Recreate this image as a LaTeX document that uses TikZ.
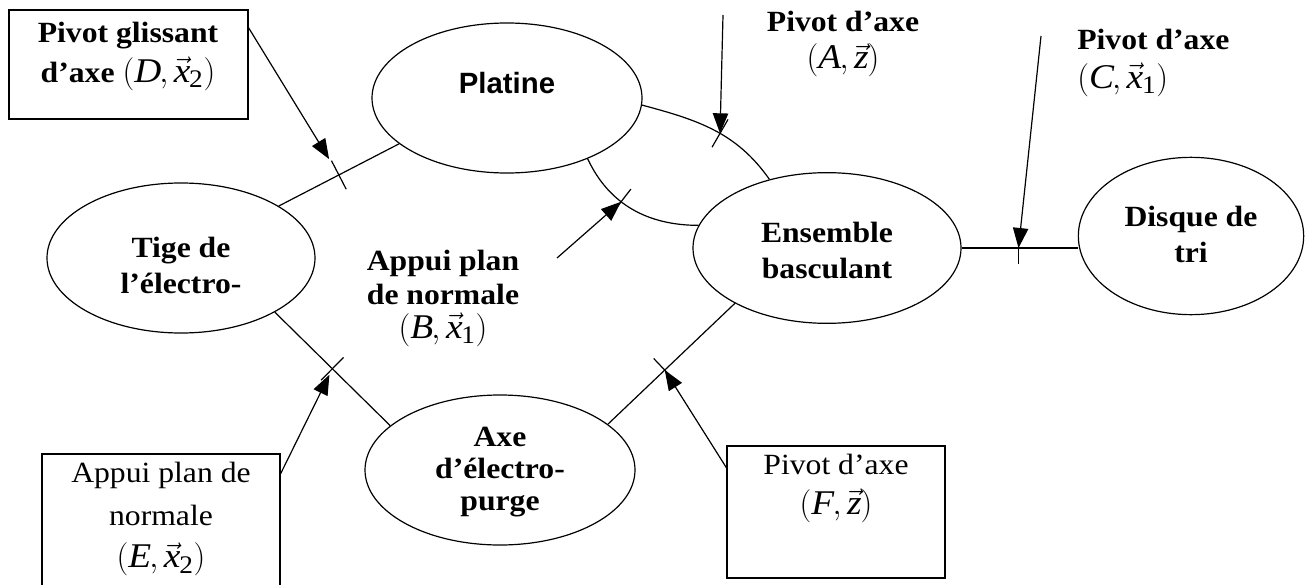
\documentclass[tikz,border=0pt]{standalone}
\usepackage{fontspec}
\setmainfont{Liberation Serif}[FakeStretch=1.08]
\setsansfont{Liberation Sans}
\usetikzlibrary{shapes.geometric,arrows.meta,decorations.markings,calc}
\newcommand{\vecit}[1]{\vec{\mathit{#1}}}
\newcommand{\subnum}[1]{_{\mbox{\fontseries{m}\fontsize{19pt}{19pt}\selectfont #1}}}
\newcommand{\couple}[2]{{\fontsize{26pt}{26pt}\selectfont$(\mathit{#1},#2)$}}
\tikzset{
  ell/.style={draw, ellipse, inner sep=0pt, line width=0.9pt},
  lbl/.style={align=center, inner sep=0pt, font=\fontsize{22pt}{27pt}\selectfont\bfseries},
  reglbl/.style={align=center, inner sep=0pt, font=\fontsize{22pt}{30pt}\selectfont},
  boxshape/.style={draw, rectangle, inner sep=0pt, line width=0.9pt},
  conn/.style={line width=0.9pt},
  arr/.style={line width=0.9pt, -{Triangle[length=15pt,width=11.5pt]}},
  crossmark/.style 2 args={postaction={decorate, decoration={markings,
      mark=at position #1 with {\coordinate (#2); \draw[line width=0.9pt] (0,-12pt) -- (0,12pt);}}}},
}
\begin{document}
\begin{tikzpicture}[x=0.75pt,y=-0.75pt]
\useasboundingbox (0,0) rectangle (1313,585);

% ellipses
\node[ell, minimum width=201pt, minimum height=112.5pt] (tige) at (181,258) {};
\node[lbl] (tigetxt) at (181,265) {Tige de\\l’électro-};
\node[ell, minimum width=202.5pt, minimum height=112.5pt] (platine) at (507,98) {};
\node[inner sep=0pt, font=\fontsize{22pt}{26pt}\selectfont\sffamily\bfseries] (platinetxt) at (507,83) {Platine};
\node[ell, minimum width=201pt, minimum height=113pt] (ens) at (827,248) {};
\node[lbl] (enstxt) at (827,250) {Ensemble\\basculant};
\node[ell, minimum width=169pt, minimum height=118pt] (disque) at (1191,236) {};
\node[lbl] (disquetxt) at (1191,234) {Disque de\\tri};
\node[ell, minimum width=202.5pt, minimum height=112.5pt] (axe) at (500,470) {};
\node[lbl, font=\fontsize{22pt}{24pt}\selectfont\bfseries] (axetxt) at (500,472) {Axe\\d’électro-\\purge};

% boxes
\node[boxshape, minimum width=179.25pt, minimum height=81.75pt] (boxD) at (128.5,64.5) {};
\node[lbl, font=\fontsize{22pt}{30pt}\selectfont\bfseries] (boxDtxt) at (128,56) {Pivot glissant\\d’axe \couple{D}{\vecit{x}\subnum{2}}};
\node[boxshape, minimum width=178.5pt, minimum height=109.5pt] (boxE) at (161,527) {};
\node[reglbl, font=\fontsize{22pt}{32pt}\selectfont] (boxEtxt) at (161,519) {Appui plan de\\normale\\\couple{E}{\vecit{x}\subnum{2}}};
\node[boxshape, minimum width=163.5pt, minimum height=99pt] (boxF) at (836,512) {};
\node[reglbl] (boxFtxt) at (836,488) {Pivot d’axe\\\couple{F}{\vecit{z}}};

% free labels
\node[lbl, font=\fontsize{22pt}{28pt}\selectfont\bfseries] (labA) at (843,44) {Pivot d’axe\\\couple{A}{\vecit{z}}};
\node[lbl, font=\fontsize{22pt}{25.5pt}\selectfont\bfseries] (labB) at (443,298) {Appui plan\\de normale\\\couple{B}{\vecit{x}\subnum{1}}};
\node[lbl, align=left, anchor=west, font=\fontsize{22pt}{29pt}\selectfont\bfseries] (labC) at (1077,63) {Pivot d’axe\\\couple{C}{\vecit{x}\subnum{1}}};

% connectors with cross marks
\draw[conn, crossmark={0.5}{tD}] (tige.28) -- (platine.203);
\draw[conn, crossmark={0.55}{tA}] (platine.-3) to[out=-15,in=125] (ens.130);
\draw[conn, crossmark={0.4}{tB}] (platine.-37) to[out=-65,in=180] (ens.170);
\draw[conn, crossmark={0.49}{tC}] (ens.east) -- (ens.east -| disque.west);
\draw[conn, crossmark={0.5}{tE}] (tige.-30) -- (axe.158);
\draw[conn, crossmark={0.45}{tF}] (axe.23) -- (ens.211);

% arrows
\coordinate (aA) at (723,15);
\coordinate (aB) at (557,258);
\coordinate (aC) at (1041,36);
\draw[arr] (aA) -- (tA);
\draw[arr] (aB) -- (tB);
\draw[arr] (aC) -- (tC);
\draw[arr, shorten >=14pt] (boxD.17) -- (tD);
\draw[arr, shorten >=5pt] (boxE.24) -- (tE);
\draw[arr] (boxF.158) -- (tF);
\end{tikzpicture}
\end{document}
